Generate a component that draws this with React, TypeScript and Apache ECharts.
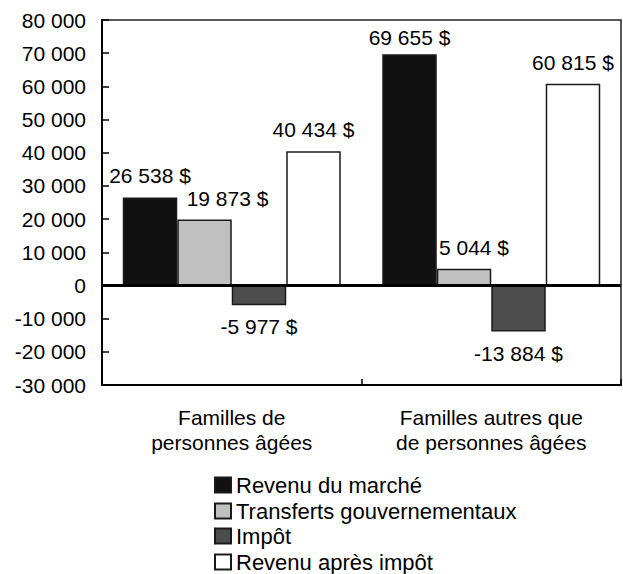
import React, { useEffect, useRef } from "react";
import * as echarts from "echarts";

const categories = ["Familles de\npersonnes âgées", "Familles autres que\nde personnes âgées"];
const seriesNames = ["Revenu du marché", "Transferts gouvernementaux", "Impôt", "Revenu après impôt"];
const marketIncome = [26538, 69655];
const transfers = [19873, 5044];
const tax = [-5977, -13884];
const afterTax = [40434, 60815];
const colors = ["#111111", "#c0c0c0", "#4d4d4d", "#ffffff"];
// label nudges (Excel-style manual placement) [series][category] = [dx, dy]
const labelNudges = [
  [[0, 0], [0, 5]],
  [[23, 0], [10, 0]],
  [[0, 0], [0, 0]],
  [[0, 0], [0, 0]],
];

const FONT = "'Liberation Sans', Arial, sans-serif";
const FS = 21;

function fmt(v: number): string {
  const s = Math.abs(Math.round(v)).toString().replace(/\B(?=(\d{3})+(?!\d))/g, " ");
  return (v < 0 ? "-" : "") + s;
}

export default function App() {
  const ref = useRef<HTMLDivElement>(null);
  useEffect(() => {
    if (!ref.current) return;
    const chart = echarts.init(ref.current, undefined, { renderer: "svg" });
    const values = [marketIncome, transfers, tax, afterTax];
    const series = values.map((vals, i) => ({
      name: seriesNames[i],
      type: "bar",
      barGap: "0%",
      barCategoryGap: "16%",
      itemStyle: { color: colors[i], borderColor: "#1a1a1a", borderWidth: 1.5 },
      data: vals.map((v, j) => ({
        value: v,
        label: {
          show: true,
          position: v >= 0 ? "top" : "bottom",
          distance: 11,
          offset: labelNudges[i][j],
          formatter: (p: any) => fmt(p.value) + " $",
          color: "#000",
          fontFamily: FONT,
          fontSize: FS,
        },
      })),
      ...(i === 0
        ? {
            markLine: {
              silent: true,
              symbol: ["none", "none"],
              label: { show: false },
              lineStyle: { color: "#000", width: 3, type: "solid" },
              data: [{ yAxis: 0 }],
              z: 10,
            },
          }
        : {}),
    }));
    const legendTops = [474, 500, 525, 551];
    const legends = seriesNames.map((name, i) => ({
      orient: "horizontal",
      left: 214,
      top: legendTops[i],
      padding: 0,
      itemWidth: 16,
      itemHeight: 15,
      icon: "rect",
      textStyle: { fontFamily: FONT, fontSize: 22, color: "#000" },
      data: [name],
    }));
    chart.setOption({
      animation: false,
      backgroundColor: "#fff",
      textStyle: { fontFamily: FONT, color: "#000" },
      grid: {
        left: 102,
        top: 20,
        right: 2,
        bottom: 189,
        show: true,
        borderColor: "#222",
        borderWidth: 1.5,
        containLabel: false,
      },
      legend: legends,
      xAxis: {
        type: "category",
        data: categories,
        axisLine: { show: true, onZero: false, lineStyle: { color: "#000", width: 2 } },
        axisTick: { show: true, inside: true, length: 6, lineStyle: { color: "#000", width: 1.5 } },
        axisLabel: {
          margin: 20,
          fontFamily: FONT,
          fontSize: FS,
          color: "#000",
          lineHeight: 25,
          interval: 0,
        },
        splitLine: { show: false },
      },
      yAxis: {
        type: "value",
        min: -30000,
        max: 80000,
        interval: 10000,
        axisLine: { show: true, lineStyle: { color: "#000", width: 2 } },
        axisTick: { show: true, inside: true, length: 7, lineStyle: { color: "#000", width: 1.5 } },
        axisLabel: {
          margin: 16,
          fontFamily: FONT,
          fontSize: FS,
          color: "#000",
          formatter: (v: number) => fmt(v),
        },
        splitLine: { show: false },
      },
      series,
    });
    return () => chart.dispose();
  }, []);
  return (
    <div
      ref={ref}
      style={{ position: "absolute", left: 0, top: 0, width: 623, height: 574 }}
    />
  );
}
